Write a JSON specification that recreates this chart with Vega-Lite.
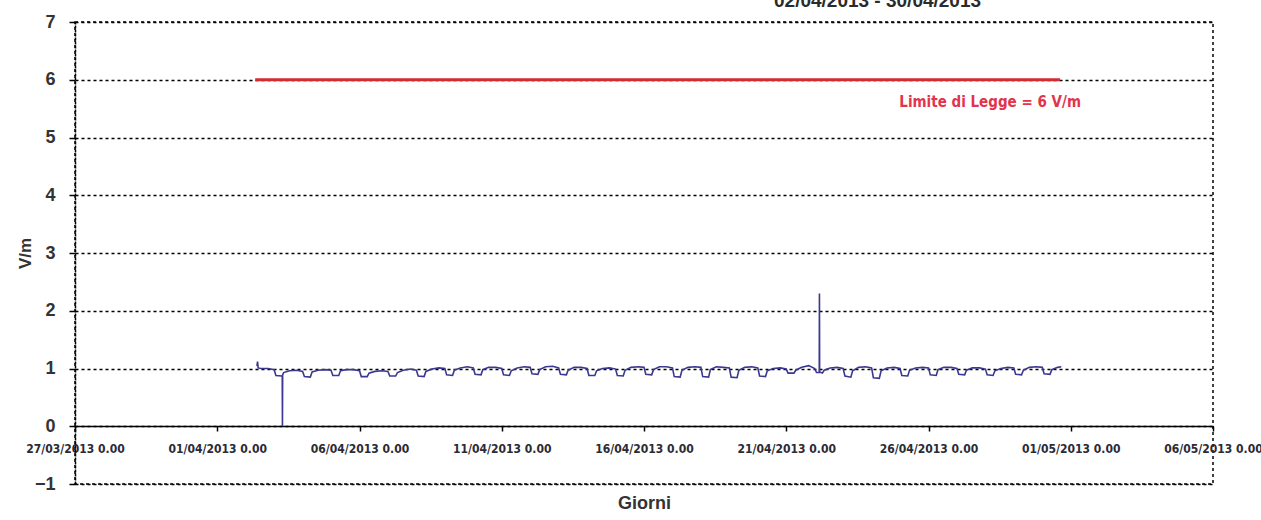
{
  "$schema": "https://vega.github.io/schema/vega-lite/v6.json",
  "autosize": {"type": "none"},
  "width": 1138,
  "height": 462,
  "padding": {"left": 75, "top": 22, "right": 48, "bottom": 36},
  "background": "white",
  "config": {
    "view": {"stroke": "black", "strokeDash": [3, 3], "strokeWidth": 1.5},
    "font": "Liberation Sans"
  },
  "datasets": {
    "misure": [
      {"t": "2013-04-02T09:30", "v": 1.04}, {"t": "2013-04-02T10:00", "v": 1.12}, {"t": "2013-04-02T10:30", "v": 1.01}, {"t": "2013-04-02T13:00", "v": 1.0}, {"t": "2013-04-02T19:00", "v": 1.0},
      {"t": "2013-04-03T00:00", "v": 0.98}, {"t": "2013-04-03T01:30", "v": 0.88}, {"t": "2013-04-03T06:30", "v": 0.87}, {"t": "2013-04-03T06:50", "v": 0.87}, {"t": "2013-04-03T07:00", "v": 0.0}, {"t": "2013-04-03T07:10", "v": 0.89}, {"t": "2013-04-03T08:00", "v": 0.93}, {"t": "2013-04-03T13:00", "v": 0.96}, {"t": "2013-04-03T19:00", "v": 0.97},
      {"t": "2013-04-04T00:00", "v": 0.95}, {"t": "2013-04-04T01:30", "v": 0.86}, {"t": "2013-04-04T06:30", "v": 0.85}, {"t": "2013-04-04T08:00", "v": 0.94}, {"t": "2013-04-04T13:00", "v": 0.97}, {"t": "2013-04-04T19:00", "v": 0.98},
      {"t": "2013-04-05T00:00", "v": 0.97}, {"t": "2013-04-05T01:30", "v": 0.88}, {"t": "2013-04-05T06:30", "v": 0.88}, {"t": "2013-04-05T08:00", "v": 0.96}, {"t": "2013-04-05T13:00", "v": 0.98}, {"t": "2013-04-05T19:00", "v": 0.98},
      {"t": "2013-04-06T00:00", "v": 0.96}, {"t": "2013-04-06T01:30", "v": 0.86}, {"t": "2013-04-06T06:30", "v": 0.86}, {"t": "2013-04-06T08:00", "v": 0.92}, {"t": "2013-04-06T13:00", "v": 0.95}, {"t": "2013-04-06T19:00", "v": 0.96},
      {"t": "2013-04-07T00:00", "v": 0.95}, {"t": "2013-04-07T01:30", "v": 0.87}, {"t": "2013-04-07T06:30", "v": 0.87}, {"t": "2013-04-07T08:00", "v": 0.93}, {"t": "2013-04-07T13:00", "v": 0.97}, {"t": "2013-04-07T19:00", "v": 0.99},
      {"t": "2013-04-08T00:00", "v": 0.97}, {"t": "2013-04-08T01:30", "v": 0.87}, {"t": "2013-04-08T06:30", "v": 0.86}, {"t": "2013-04-08T08:00", "v": 0.95}, {"t": "2013-04-08T13:00", "v": 0.99}, {"t": "2013-04-08T19:00", "v": 1.01},
      {"t": "2013-04-09T00:00", "v": 1.0}, {"t": "2013-04-09T01:30", "v": 0.89}, {"t": "2013-04-09T06:30", "v": 0.88}, {"t": "2013-04-09T08:00", "v": 0.97}, {"t": "2013-04-09T13:00", "v": 1.01}, {"t": "2013-04-09T19:00", "v": 1.03},
      {"t": "2013-04-10T00:00", "v": 1.01}, {"t": "2013-04-10T01:30", "v": 0.9}, {"t": "2013-04-10T06:30", "v": 0.89}, {"t": "2013-04-10T08:00", "v": 0.98}, {"t": "2013-04-10T13:00", "v": 1.02}, {"t": "2013-04-10T19:00", "v": 1.02},
      {"t": "2013-04-11T00:00", "v": 1.0}, {"t": "2013-04-11T01:30", "v": 0.89}, {"t": "2013-04-11T06:30", "v": 0.88}, {"t": "2013-04-11T08:00", "v": 0.96}, {"t": "2013-04-11T13:00", "v": 1.01}, {"t": "2013-04-11T19:00", "v": 1.03},
      {"t": "2013-04-12T00:00", "v": 1.02}, {"t": "2013-04-12T01:30", "v": 0.91}, {"t": "2013-04-12T06:30", "v": 0.9}, {"t": "2013-04-12T08:00", "v": 0.98}, {"t": "2013-04-12T13:00", "v": 1.03}, {"t": "2013-04-12T19:00", "v": 1.04},
      {"t": "2013-04-13T00:00", "v": 1.01}, {"t": "2013-04-13T01:30", "v": 0.9}, {"t": "2013-04-13T06:30", "v": 0.89}, {"t": "2013-04-13T08:00", "v": 0.97}, {"t": "2013-04-13T13:00", "v": 1.02}, {"t": "2013-04-13T19:00", "v": 1.02},
      {"t": "2013-04-14T00:00", "v": 1.0}, {"t": "2013-04-14T01:30", "v": 0.88}, {"t": "2013-04-14T06:30", "v": 0.88}, {"t": "2013-04-14T08:00", "v": 0.96}, {"t": "2013-04-14T13:00", "v": 1.0}, {"t": "2013-04-14T19:00", "v": 1.01},
      {"t": "2013-04-15T00:00", "v": 0.99}, {"t": "2013-04-15T01:30", "v": 0.88}, {"t": "2013-04-15T06:30", "v": 0.87}, {"t": "2013-04-15T08:00", "v": 0.97}, {"t": "2013-04-15T13:00", "v": 1.02}, {"t": "2013-04-15T19:00", "v": 1.03},
      {"t": "2013-04-16T00:00", "v": 1.02}, {"t": "2013-04-16T01:30", "v": 0.9}, {"t": "2013-04-16T06:30", "v": 0.89}, {"t": "2013-04-16T08:00", "v": 0.98}, {"t": "2013-04-16T13:00", "v": 1.03}, {"t": "2013-04-16T19:00", "v": 1.03},
      {"t": "2013-04-17T00:00", "v": 1.01}, {"t": "2013-04-17T01:30", "v": 0.86}, {"t": "2013-04-17T06:30", "v": 0.85}, {"t": "2013-04-17T08:00", "v": 0.97}, {"t": "2013-04-17T13:00", "v": 1.02}, {"t": "2013-04-17T19:00", "v": 1.03},
      {"t": "2013-04-18T00:00", "v": 1.02}, {"t": "2013-04-18T01:30", "v": 0.86}, {"t": "2013-04-18T06:30", "v": 0.85}, {"t": "2013-04-18T08:00", "v": 0.98}, {"t": "2013-04-18T13:00", "v": 1.03}, {"t": "2013-04-18T19:00", "v": 1.02},
      {"t": "2013-04-19T00:00", "v": 1.01}, {"t": "2013-04-19T01:30", "v": 0.85}, {"t": "2013-04-19T06:30", "v": 0.84}, {"t": "2013-04-19T08:00", "v": 0.97}, {"t": "2013-04-19T13:00", "v": 1.02}, {"t": "2013-04-19T19:00", "v": 1.03},
      {"t": "2013-04-20T00:00", "v": 1.01}, {"t": "2013-04-20T01:30", "v": 0.87}, {"t": "2013-04-20T06:30", "v": 0.86}, {"t": "2013-04-20T08:00", "v": 0.96}, {"t": "2013-04-20T13:00", "v": 1.0}, {"t": "2013-04-20T19:00", "v": 1.01},
      {"t": "2013-04-21T00:00", "v": 0.99}, {"t": "2013-04-21T01:30", "v": 0.92}, {"t": "2013-04-21T06:30", "v": 0.92}, {"t": "2013-04-21T08:00", "v": 0.97}, {"t": "2013-04-21T13:00", "v": 1.02}, {"t": "2013-04-21T19:00", "v": 1.05},
      {"t": "2013-04-22T00:00", "v": 1.0}, {"t": "2013-04-22T01:30", "v": 0.93}, {"t": "2013-04-22T03:50", "v": 0.93}, {"t": "2013-04-22T04:00", "v": 2.3}, {"t": "2013-04-22T04:10", "v": 0.94}, {"t": "2013-04-22T06:30", "v": 0.92}, {"t": "2013-04-22T08:00", "v": 0.97}, {"t": "2013-04-22T13:00", "v": 1.01}, {"t": "2013-04-22T19:00", "v": 1.02},
      {"t": "2013-04-23T00:00", "v": 1.0}, {"t": "2013-04-23T01:30", "v": 0.87}, {"t": "2013-04-23T06:30", "v": 0.85}, {"t": "2013-04-23T08:00", "v": 0.96}, {"t": "2013-04-23T13:00", "v": 1.02}, {"t": "2013-04-23T19:00", "v": 1.03},
      {"t": "2013-04-24T00:00", "v": 1.01}, {"t": "2013-04-24T01:30", "v": 0.84}, {"t": "2013-04-24T06:30", "v": 0.83}, {"t": "2013-04-24T08:00", "v": 0.96}, {"t": "2013-04-24T13:00", "v": 1.01}, {"t": "2013-04-24T19:00", "v": 1.02},
      {"t": "2013-04-25T00:00", "v": 1.0}, {"t": "2013-04-25T01:30", "v": 0.88}, {"t": "2013-04-25T06:30", "v": 0.87}, {"t": "2013-04-25T08:00", "v": 0.97}, {"t": "2013-04-25T13:00", "v": 1.01}, {"t": "2013-04-25T19:00", "v": 1.02},
      {"t": "2013-04-26T00:00", "v": 1.01}, {"t": "2013-04-26T01:30", "v": 0.89}, {"t": "2013-04-26T06:30", "v": 0.88}, {"t": "2013-04-26T08:00", "v": 0.98}, {"t": "2013-04-26T13:00", "v": 1.02}, {"t": "2013-04-26T19:00", "v": 1.02},
      {"t": "2013-04-27T00:00", "v": 1.0}, {"t": "2013-04-27T01:30", "v": 0.9}, {"t": "2013-04-27T06:30", "v": 0.89}, {"t": "2013-04-27T08:00", "v": 0.97}, {"t": "2013-04-27T13:00", "v": 1.01}, {"t": "2013-04-27T19:00", "v": 1.01},
      {"t": "2013-04-28T00:00", "v": 0.99}, {"t": "2013-04-28T01:30", "v": 0.89}, {"t": "2013-04-28T06:30", "v": 0.88}, {"t": "2013-04-28T08:00", "v": 0.96}, {"t": "2013-04-28T13:00", "v": 1.0}, {"t": "2013-04-28T19:00", "v": 1.02},
      {"t": "2013-04-29T00:00", "v": 1.01}, {"t": "2013-04-29T01:30", "v": 0.9}, {"t": "2013-04-29T06:30", "v": 0.89}, {"t": "2013-04-29T08:00", "v": 0.97}, {"t": "2013-04-29T13:00", "v": 1.02}, {"t": "2013-04-29T19:00", "v": 1.03},
      {"t": "2013-04-30T00:00", "v": 1.02}, {"t": "2013-04-30T01:30", "v": 0.91}, {"t": "2013-04-30T06:30", "v": 0.9}, {"t": "2013-04-30T08:00", "v": 0.98}, {"t": "2013-04-30T13:00", "v": 1.02}, {"t": "2013-04-30T16:00", "v": 1.03}
    ],
    "limite": [
      {"t": "2013-04-02T08:00", "v": 6},
      {"t": "2013-04-30T15:00", "v": 6}
    ],
    "etichette": [
      {"t": "2013-04-28T04:00", "v": 5.62, "label": "Limite di Legge = 6 V/m"}
    ],
    "titolo": [
      {"t": "2013-04-24T05:00", "v": 7.26, "label": "02/04/2013 - 30/04/2013"}
    ]
  },
  "encoding": {
    "x": {
      "field": "t",
      "type": "temporal",
      "scale": {"domain": [{"year": 2013, "month": "mar", "date": 27}, {"year": 2013, "month": "may", "date": 6}]},
      "axis": {
        "values": [
          {"year": 2013, "month": "mar", "date": 27},
          {"year": 2013, "month": "apr", "date": 1},
          {"year": 2013, "month": "apr", "date": 6},
          {"year": 2013, "month": "apr", "date": 11},
          {"year": 2013, "month": "apr", "date": 16},
          {"year": 2013, "month": "apr", "date": 21},
          {"year": 2013, "month": "apr", "date": 26},
          {"year": 2013, "month": "may", "date": 1},
          {"year": 2013, "month": "may", "date": 6}
        ],
        "format": "%d/%m/%Y %-H.%M",
        "labelFont": "DejaVu Sans Condensed, Liberation Sans",
        "labelFontSize": 12,
        "labelFontWeight": "bold",
        "labelColor": "#2b2b36",
        "labelOverlap": false,
        "labelFlush": false,
        "labelPadding": 12,
        "domainColor": "black",
        "domainWidth": 1.5,
        "tickColor": "black",
        "tickSize": 5,
        "tickWidth": 1.5,
        "grid": false,
        "offset": -58,
        "title": "Giorni",
        "titleFont": "Liberation Sans",
        "titleFontSize": 18,
        "titleFontWeight": "bold",
        "titleColor": "#333333",
        "titleY": 77,
        "titleBaseline": "middle"
      }
    },
    "y": {
      "field": "v",
      "type": "quantitative",
      "scale": {"domain": [-1, 7], "nice": false},
      "axis": {
        "values": [-1, 0, 1, 2, 3, 4, 5, 6, 7],
        "grid": true,
        "gridColor": "black",
        "gridDash": [3, 3],
        "gridWidth": 1.5,
        "domainColor": "black",
        "domainWidth": 1.5,
        "domainDash": [3, 1],
        "tickColor": "black",
        "tickSize": 6,
        "tickWidth": 1.5,
        "labelFont": "Liberation Sans",
        "labelFontSize": 18,
        "labelFontWeight": "bold",
        "labelColor": "#333333",
        "labelPadding": 14,
        "title": "V/m",
        "titleFont": "Liberation Sans",
        "titleFontSize": 17,
        "titleFontWeight": "bold",
        "titleColor": "#333333",
        "titlePadding": 0
      }
    }
  },
  "layer": [
    {
      "data": {"name": "limite"},
      "mark": {"type": "line", "color": "#d42a32", "strokeWidth": 3}
    },
    {
      "data": {"name": "misure"},
      "mark": {"type": "line", "color": "#3a3890", "strokeWidth": 1.6}
    },
    {
      "data": {"name": "etichette"},
      "mark": {"type": "text", "color": "#e2344c", "font": "DejaVu Sans Condensed, Liberation Sans", "fontSize": 15, "fontWeight": "bold", "align": "center", "baseline": "middle"},
      "encoding": {"text": {"field": "label"}}
    },
    {
      "data": {"name": "titolo"},
      "mark": {"type": "text", "color": "#2b2b2b", "font": "Liberation Sans", "fontSize": 19, "fontWeight": "bold", "align": "center", "baseline": "alphabetic"},
      "encoding": {"text": {"field": "label"}}
    }
  ]
}
